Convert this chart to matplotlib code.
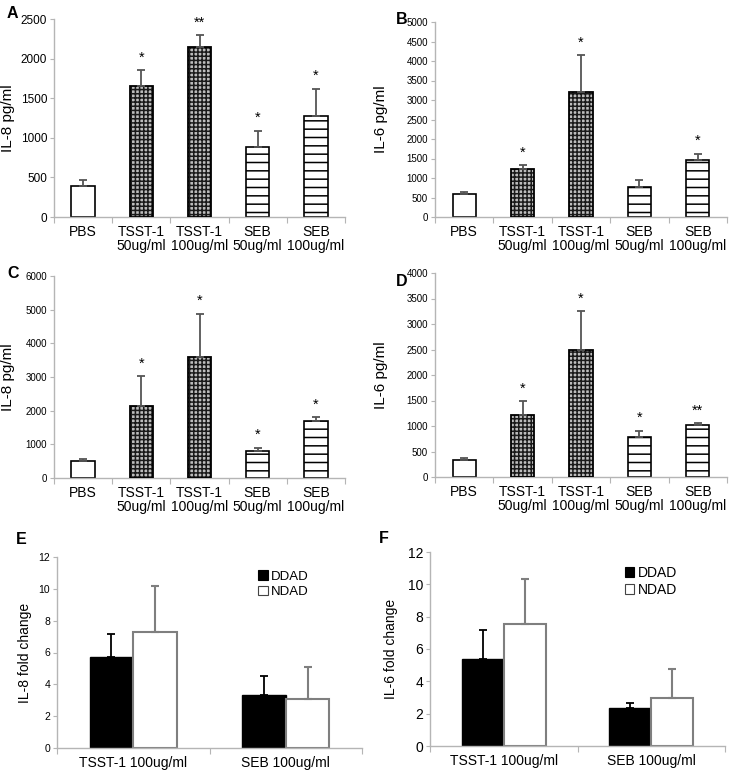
import matplotlib
matplotlib.use("Agg")
import matplotlib.pyplot as plt
from matplotlib.patches import Patch
import numpy as np

plt.rcParams['font.family'] = ['Liberation Sans', 'DejaVu Sans']
plt.rcParams['hatch.linewidth'] = 1.1

# ---------------- data ----------------
categories = ['PBS', 'TSST-1\n50ug/ml', 'TSST-1\n100ug/ml', 'SEB\n50ug/ml', 'SEB\n100ug/ml']
kinds = ['pbs', 'tsst', 'tsst', 'seb', 'seb']

A_vals = [390, 1650, 2150, 880, 1280]
A_err = [80, 200, 150, 210, 340]
A_sig = ['', '*', '**', '*', '*']

B_vals = [600, 1230, 3200, 770, 1450]
B_err = [45, 95, 950, 170, 170]
B_sig = ['', '*', '*', '', '*']

C_vals = [500, 2140, 3600, 800, 1700]
C_err = [50, 880, 1280, 100, 100]
C_sig = ['', '*', '*', '*', '*']

D_vals = [340, 1220, 2500, 790, 1010]
D_err = [40, 270, 750, 120, 40]
D_sig = ['', '*', '*', '*', '**']

groups = ['TSST-1 100ug/ml', 'SEB 100ug/ml']
E_ddad = [5.7, 3.35]
E_ddad_err = [1.45, 1.15]
E_ndad = [7.3, 3.1]
E_ndad_err = [2.85, 2.0]

F_ddad = [5.4, 2.37]
F_ddad_err = [1.8, 0.3]
F_ndad = [7.55, 2.95]
F_ndad_err = [2.8, 1.8]

W, H = 729, 775
fig = plt.figure(figsize=(W / 100, H / 100), dpi=100)


def px_axes(left, right, top, bottom):
    ax = fig.add_axes([left / W, 1 - bottom / H, (right - left) / W, (bottom - top) / H])
    ax._px_width = right - left
    return ax


AXC = '#b5b5b5'
ERRC = '#555555'


def style_axes(ax, ytick_size, ylabel, ylabel_fs, label_dx):
    for s in ['top', 'right']:
        ax.spines[s].set_visible(False)
    for s in ['left', 'bottom']:
        ax.spines[s].set_color(AXC)
        ax.spines[s].set_linewidth(1.0)
    ax.tick_params(axis='y', direction='out', length=3, width=0.8, color=AXC,
                   labelsize=ytick_size, pad=2)
    ax.set_ylabel(ylabel, fontsize=ylabel_fs)
    ax.yaxis.set_label_coords(-label_dx / ax._px_width, 0.5)


def bar_panel(ax, vals, err, sig, ymax, ystep, ylabel, ytick_size, label_dx):
    x = np.arange(len(categories))
    for xi, v, k in zip(x, vals, kinds):
        if k == 'tsst':
            ax.bar(xi, v, width=0.4, color='#bdbdbd', edgecolor='#1a1a1a', hatch='++++', linewidth=0, zorder=2)
            ax.bar(xi, v, width=0.4, fill=False, edgecolor='black', linewidth=1.3, zorder=3)
        elif k == 'seb':
            ax.bar(xi, v, width=0.4, color='white', edgecolor='black', hatch='--', linewidth=1.2, zorder=2)
        else:
            ax.bar(xi, v, width=0.4, color='white', edgecolor='black', linewidth=1.2, zorder=2)
    ax.errorbar(x, vals, yerr=[np.zeros(len(vals)), err], fmt='none', ecolor=ERRC,
                elinewidth=1.3, capsize=3, capthick=1.3, zorder=4)
    for xi, v, e, s in zip(x, vals, err, sig):
        if s:
            ax.annotate(s, (xi, v + e), xytext=(0, 4), textcoords='offset points',
                        ha='center', va='bottom', fontsize=10.5)
    ax.set_xlim(-0.5, len(categories) - 0.5)
    ax.set_ylim(0, ymax)
    ax.set_yticks(np.arange(0, ymax + 1, ystep))
    ax.set_xticks(np.arange(len(categories)))
    ax.set_xticklabels(categories, fontsize=10, linespacing=1.0)
    ax.set_xticks(np.arange(-0.5, len(categories), 1.0), minor=True)
    ax.tick_params(axis='x', which='major', length=0, pad=6)
    ax.tick_params(axis='x', which='minor', direction='out', length=4, width=0.8, color=AXC)
    style_axes(ax, ytick_size, ylabel, 11, label_dx)


def fold_panel(ax, dd, dde, nd, nde, ylabel, ytick_size, leg_fs, leg_anchor, label_dx):
    x = np.arange(len(groups))
    w = 0.286
    ax.bar(x - w / 2, dd, width=w, color='black', edgecolor='black', linewidth=1.0, zorder=2)
    ax.bar(x + w / 2, nd, width=w, color='white', edgecolor='#7f7f7f', linewidth=1.5, zorder=2)
    ax.errorbar(x - w / 2, dd, yerr=[np.zeros(len(dd)), dde], fmt='none', ecolor='black',
                elinewidth=1.3, capsize=3, capthick=1.3, zorder=4)
    ax.errorbar(x + w / 2, nd, yerr=[np.zeros(len(nd)), nde], fmt='none', ecolor='#7f7f7f',
                elinewidth=1.5, capsize=3, capthick=1.5, zorder=4)
    ax.set_xlim(-0.5, len(groups) - 0.5)
    ax.set_ylim(0, 12)
    ax.set_yticks(np.arange(0, 13, 2))
    ax.set_xticks(x)
    ax.set_xticklabels(groups, fontsize=10)
    ax.set_xticks(np.arange(-0.5, len(groups), 1.0), minor=True)
    ax.tick_params(axis='x', which='major', length=0, pad=6)
    ax.tick_params(axis='x', which='minor', direction='out', length=4, width=0.8, color=AXC)
    style_axes(ax, ytick_size, ylabel, 10, label_dx)
    handles = [Patch(facecolor='black', edgecolor='black', linewidth=0.8),
               Patch(facecolor='white', edgecolor='#444444', linewidth=0.8)]
    ax.legend(handles, ['DDAD', 'NDAD'], loc='upper left', bbox_to_anchor=leg_anchor,
              frameon=False, fontsize=leg_fs, handlelength=0.7, handleheight=0.7,
              handletextpad=0.25, labelspacing=0.25, borderaxespad=0, borderpad=0)


axA = px_axes(54, 345, 19, 217)
bar_panel(axA, A_vals, A_err, A_sig, 2500, 500, 'IL-8 pg/ml', 8.5, 39)
axB = px_axes(435, 727, 22, 217)
bar_panel(axB, B_vals, B_err, B_sig, 5000, 500, 'IL-6 pg/ml', 7, 47)
axC = px_axes(54, 345, 276, 478)
bar_panel(axC, C_vals, C_err, C_sig, 6000, 1000, 'IL-8 pg/ml', 7, 39)
axD = px_axes(435, 727, 273, 477)
bar_panel(axD, D_vals, D_err, D_sig, 4000, 500, 'IL-6 pg/ml', 7, 47)

axE = px_axes(57, 362, 557, 748)
fold_panel(axE, E_ddad, E_ddad_err, E_ndad, E_ndad_err, 'IL-8 fold change', 7.5, 9.5, (0.66, 0.93), 25)
axF = px_axes(430, 725, 552, 746)
fold_panel(axF, F_ddad, F_ddad_err, F_ndad, F_ndad_err, 'IL-6 fold change', 10, 10, (0.66, 0.93), 32)

for lbl, xp, yp in [('A', 7, 6), ('B', 396, 12), ('C', 7, 266), ('D', 396, 274),
                    ('E', 16, 532), ('F', 379, 531)]:
    fig.text(xp / W, 1 - yp / H, lbl, fontsize=11.5, fontweight='bold', ha='left', va='top')

fig.savefig('out.png', dpi=100)
